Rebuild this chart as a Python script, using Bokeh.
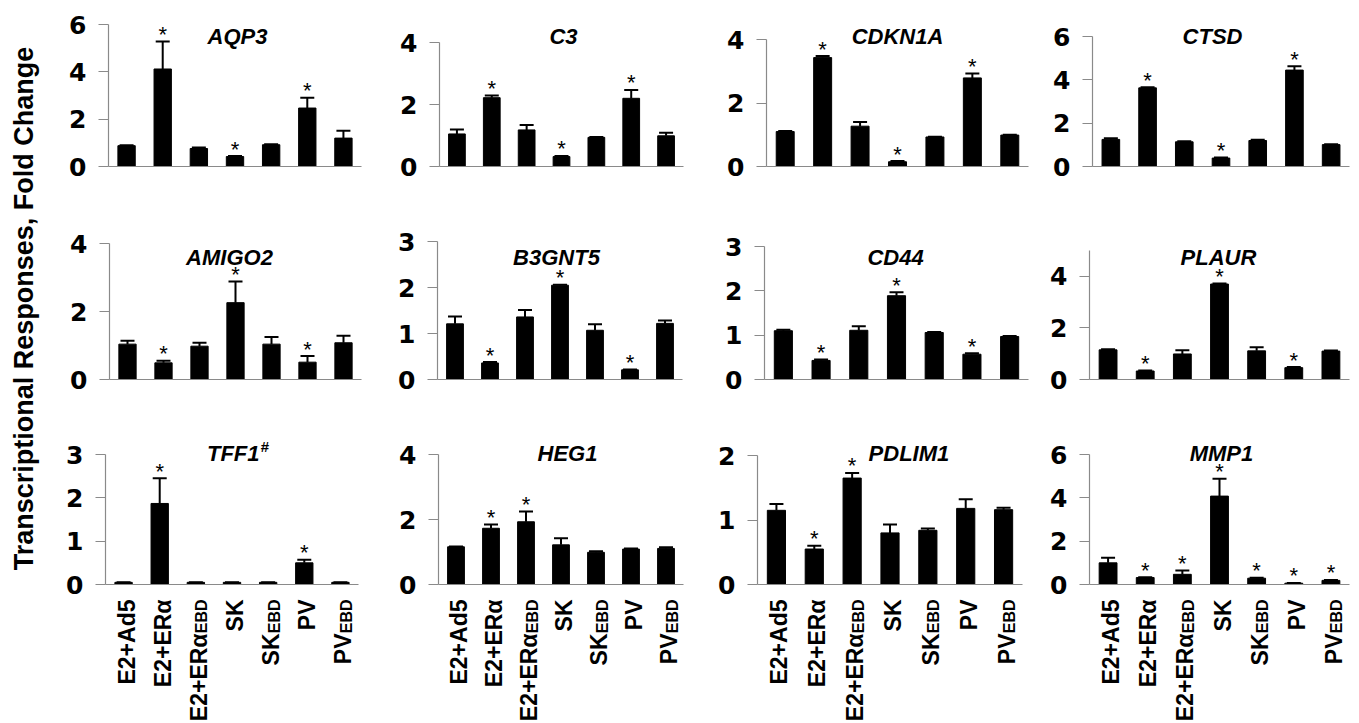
import math
from bokeh.plotting import figure
from bokeh.layouts import row, column
from bokeh.models import ColumnDataSource, Range1d, FixedTicker, Whisker, TeeHead, Label
from bokeh.core.properties import value
from bokeh.embed import file_html
from bokeh.resources import INLINE

# ---------------- data ----------------
categories = ["E2+Ad5", "E2+ERα", "E2+ERα", "SK", "SK", "PV", "PV"]
subscripts = ["", "", "EBD", "", "EBD", "", "EBD"]

genes = ["AQP3", "C3", "CDKN1A", "CTSD",
         "AMIGO2", "B3GNT5", "CD44", "PLAUR",
         "TFF1", "HEG1", "PDLIM1", "MMP1"]
gene_sup = ["", "", "", "", "", "", "", "", "#", "", "", ""]

aqp3_mean = [0.88, 4.12, 0.76, 0.42, 0.92, 2.47, 1.20]
aqp3_err = [0.02, 1.16, 0.04, 0.02, 0.02, 0.43, 0.31]
aqp3_sig = [0, 1, 0, 1, 0, 1, 0]

c3_mean = [1.05, 2.22, 1.18, 0.32, 0.94, 2.20, 0.99]
c3_err = [0.14, 0.07, 0.16, 0.02, 0.01, 0.27, 0.10]
c3_sig = [0, 1, 0, 1, 0, 1, 0]

cdkn1a_mean = [1.10, 3.43, 1.27, 0.15, 0.93, 2.79, 0.99]
cdkn1a_err = [0.02, 0.05, 0.13, 0.02, 0.01, 0.14, 0.01]
cdkn1a_sig = [0, 1, 0, 1, 0, 1, 0]

ctsd_mean = [1.25, 3.63, 1.14, 0.39, 1.20, 4.45, 1.01]
ctsd_err = [0.05, 0.03, 0.03, 0.02, 0.04, 0.18, 0.02]
ctsd_sig = [0, 1, 0, 1, 0, 1, 0]

amigo2_mean = [1.04, 0.49, 0.98, 2.26, 1.04, 0.51, 1.08]
amigo2_err = [0.10, 0.06, 0.10, 0.62, 0.21, 0.18, 0.21]
amigo2_sig = [0, 1, 0, 1, 0, 1, 0]

b3gnt5_mean = [1.21, 0.36, 1.36, 2.05, 1.07, 0.21, 1.22]
b3gnt5_err = [0.16, 0.02, 0.15, 0.01, 0.13, 0.01, 0.06]
b3gnt5_sig = [0, 1, 0, 1, 0, 1, 0]

cd44_mean = [1.10, 0.43, 1.11, 1.89, 1.06, 0.57, 0.97]
cd44_err = [0.02, 0.02, 0.09, 0.08, 0.01, 0.02, 0.01]
cd44_sig = [0, 1, 0, 1, 0, 1, 0]

plaur_mean = [1.15, 0.33, 0.99, 3.70, 1.11, 0.46, 1.10]
plaur_err = [0.02, 0.02, 0.14, 0.02, 0.14, 0.02, 0.02]
plaur_sig = [0, 1, 0, 1, 0, 1, 0]

tff1_mean = [0.05, 1.87, 0.05, 0.05, 0.05, 0.50, 0.05]
tff1_err = [0.0, 0.58, 0.0, 0.0, 0.0, 0.07, 0.0]
tff1_sig = [0, 1, 0, 0, 0, 1, 0]

heg1_mean = [1.16, 1.73, 1.93, 1.22, 0.99, 1.09, 1.11]
heg1_err = [0.01, 0.12, 0.32, 0.20, 0.03, 0.02, 0.04]
heg1_sig = [0, 1, 1, 0, 0, 0, 0]

pdlim1_mean = [1.15, 0.55, 1.65, 0.80, 0.84, 1.18, 1.16]
pdlim1_err = [0.10, 0.05, 0.08, 0.13, 0.03, 0.14, 0.03]
pdlim1_sig = [0, 1, 1, 0, 0, 0, 0]

mmp1_mean = [1.00, 0.32, 0.47, 4.08, 0.29, 0.06, 0.19]
mmp1_err = [0.24, 0.02, 0.18, 0.80, 0.02, 0.01, 0.02]
mmp1_sig = [0, 1, 1, 1, 1, 1, 1]

y_ticks = [[0, 2, 4, 6], [0, 2, 4], [0, 2, 4], [0, 2, 4, 6],
           [0, 2, 4], [0, 1, 2, 3], [0, 1, 2, 3], [0, 2, 4],
           [0, 1, 2, 3], [0, 2, 4], [0, 1, 2], [0, 2, 4, 6]]
y_axis_max = [6, 4, 4, 6, 4, 3, 3, 5, 3, 4, 2, 6]

y_title = "Transcriptional Responses, Fold Change"

all_means = [aqp3_mean, c3_mean, cdkn1a_mean, ctsd_mean, amigo2_mean, b3gnt5_mean,
             cd44_mean, plaur_mean, tff1_mean, heg1_mean, pdlim1_mean, mmp1_mean]
all_errs = [aqp3_err, c3_err, cdkn1a_err, ctsd_err, amigo2_err, b3gnt5_err,
            cd44_err, plaur_err, tff1_err, heg1_err, pdlim1_err, mmp1_err]
all_sigs = [aqp3_sig, c3_sig, cdkn1a_sig, ctsd_sig, amigo2_sig, b3gnt5_sig,
            cd44_sig, plaur_sig, tff1_sig, heg1_sig, pdlim1_sig, mmp1_sig]

# ---------------- layout (page pixels) ----------------
TITLE_W = 54
TOTAL_H = 723
fig_w = [331, 330, 330, 306]
col_x0 = [54, 385, 715, 1045]          # page x of each figure's left edge
row_y0 = [0, 205, 420]                 # page y of each figure's top edge
row_y1 = [205, 420, 599]               # page y of each panel figure's bottom edge
frame_left = [108, 439, 766, 1092,
              109, 437, 764, 1089,
              105, 438, 756, 1089]
frame_right = [361, 683, 1028, 1349,
               361, 682, 1028, 1349,
               358, 683, 1022, 1349]
row_zero = [166, 379, 584]
row_frame_top = [12, 228, 432]
axis_top_px = [24, 42, 39, 36, 243, 241, 246, 250, 454, 454, 455, 454]
title_cx = [237, 563, 897, 1212, 229, 556, 895, 1218, 233, 567, 908, 1221]
title_base = [36, 257, 453]
label_top = 599
sub_len = 34
star_gap = 7

AXIS_GRAY = "#8a8a8a"
FONT = "Liberation Sans"


def make_panel(k):
    r, c = divmod(k, 4)
    W, H = fig_w[c], row_y1[r] - row_y0[r]
    fl, fr = frame_left[k], frame_right[k]
    fw = fr - fl
    ft, z = row_frame_top[r], row_zero[r]
    fh = z - ft
    left = fl - col_x0[c]
    right = W - left - fw
    top = ft - row_y0[r]
    bottom = H - top - fh
    ymax = y_axis_max[k]
    yend = ymax * fh / (z - axis_top_px[k])
    dpp = yend / fh
    n = len(categories)

    def xd(px):
        return -0.5 + (px - fl) / fw * n

    def yd(py):
        return (z - py) * dpp

    xr = Range1d(-0.5, n - 0.5)
    p = figure(width=W, height=H, x_range=xr, y_range=Range1d(0, yend),
               output_backend="svg", toolbar_location=None,
               min_border_left=left, min_border_right=right,
               min_border_top=top, min_border_bottom=bottom)
    p.outline_line_color = None
    p.xgrid.visible = False
    p.ygrid.visible = False

    p.xaxis.ticker = FixedTicker(ticks=[])
    p.xaxis.axis_line_color = AXIS_GRAY
    p.xaxis.axis_line_width = 1.2
    p.xaxis.major_tick_line_color = None
    p.xaxis.minor_tick_line_color = None
    p.xaxis.major_label_text_font_size = "0px"

    p.yaxis.ticker = FixedTicker(ticks=y_ticks[k])
    p.yaxis.bounds = (0, ymax)
    p.yaxis.axis_line_color = AXIS_GRAY
    p.yaxis.axis_line_width = 1.2
    p.yaxis.major_tick_line_color = AXIS_GRAY
    p.yaxis.major_tick_line_width = 1.2
    p.yaxis.major_tick_in = 0
    p.yaxis.major_tick_out = 10
    p.yaxis.minor_tick_line_color = None
    p.yaxis.major_label_standoff = 12
    p.yaxis.major_label_text_font = "DejaVu Sans"
    p.yaxis.major_label_text_font_style = "bold"
    p.yaxis.major_label_text_font_size = "25px"
    p.yaxis.major_label_text_color = "black"

    means, errs, sigs = all_means[k], all_errs[k], all_sigs[k]
    xs = list(range(n))
    uppers = [m + e for m, e in zip(means, errs)]
    src = ColumnDataSource(dict(x=xs, top=means, upper=uppers))
    p.vbar(x="x", top="top", bottom=0, width=0.48, source=src,
           fill_color="black", line_color="black", line_width=1)
    p.add_layout(Whisker(source=src, base="x", lower="top", upper="upper", dimension="height",
                         line_color="black", line_width=2, lower_head=None,
                         upper_head=TeeHead(size=14, line_color="black", line_width=2)))

    sx = [x for x, s in zip(xs, sigs) if s]
    sy = [u + star_gap * dpp for u, s in zip(uppers, sigs) if s]
    ssrc = ColumnDataSource(dict(x=sx, y=sy, t=["*"] * len(sx)))
    p.text(x="x", y="y", text="t", source=ssrc, text_align="center", text_baseline="alphabetic",
           text_font=value(FONT), text_font_size=value("22px"), text_color="black")

    # panel title
    if gene_sup[k]:
        p.add_layout(Label(x=xd(title_cx[k] + 26), y=yd(title_base[r]), text=genes[k],
                           text_align="right", text_baseline="alphabetic", text_font=FONT,
                           text_font_style="bold italic", text_font_size="22px", text_color="black"))
        p.add_layout(Label(x=xd(title_cx[k] + 27), y=yd(title_base[r] - 7), text=gene_sup[k],
                           text_align="left", text_baseline="alphabetic", text_font=FONT,
                           text_font_style="bold italic", text_font_size="15px", text_color="black"))
    else:
        p.add_layout(Label(x=xd(title_cx[k]), y=yd(title_base[r]), text=genes[k],
                           text_align="center", text_baseline="alphabetic", text_font=FONT,
                           text_font_style="bold italic", text_font_size="22px", text_color="black"))

    if r < 2:
        return p

    # category labels (own strip figure sharing the x range)
    LH = TOTAL_H - row_y1[r]
    lf = figure(width=W, height=LH, x_range=xr, y_range=Range1d(0, LH),
                output_backend="svg", toolbar_location=None,
                min_border_left=left, min_border_right=right, min_border_top=0, min_border_bottom=0,
                x_axis_location=None, y_axis_location=None)
    lf.outline_line_color = None
    lf.xgrid.visible = False
    lf.ygrid.visible = False
    main_y = [LH - (label_top - row_y1[r] + (sub_len if s else 0)) for s in subscripts]
    msrc = ColumnDataSource(dict(x=xs, y=main_y, t=categories))
    lf.text(x="x", y="y", text="t", source=msrc, angle=math.pi / 2, x_offset=3,
            text_align="right", text_baseline="alphabetic", text_font=value(FONT),
            text_font_style="bold", text_font_size=value("23px"), text_color="black")
    bx = [x for x, s in zip(xs, subscripts) if s]
    bt = [s for s in subscripts if s]
    bsrc = ColumnDataSource(dict(x=bx, y=[LH - (label_top - row_y1[r])] * len(bx), t=bt))
    lf.text(x="x", y="y", text="t", source=bsrc, angle=math.pi / 2, x_offset=6,
            text_align="right", text_baseline="alphabetic", text_font=value(FONT),
            text_font_style="bold", text_font_size=value("16px"), text_color="black")
    return column(p, lf)


panels = [make_panel(k) for k in range(12)]

tf = figure(width=TITLE_W, height=TOTAL_H, x_range=Range1d(0, TITLE_W), y_range=Range1d(0, TOTAL_H),
            output_backend="svg", toolbar_location=None, min_border=0,
            x_axis_location=None, y_axis_location=None)
tf.outline_line_color = None
tf.xgrid.visible = False
tf.ygrid.visible = False
tf.add_layout(Label(x=23, y=TOTAL_H - 308, text=y_title, angle=math.pi / 2, text_align="center",
                    text_baseline="middle", text_font=FONT, text_font_style="bold",
                    text_font_size="27px", text_color="black"))

grid = column(row(*panels[0:4]), row(*panels[4:8]), row(*panels[8:12]))
layout = row(tf, grid)

open("out.html", "w").write(file_html(layout, INLINE))
